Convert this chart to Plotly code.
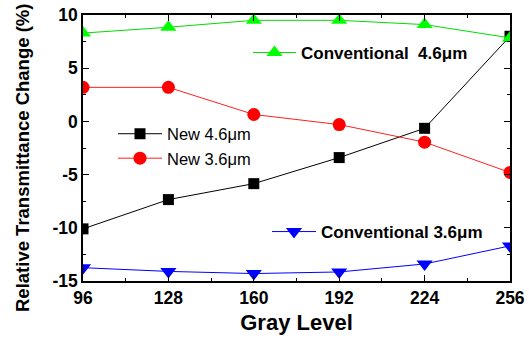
import plotly.graph_objects as go

# Gray levels and relative transmittance change (%) per pixel design
gray_levels = [96, 128, 160, 192, 224, 256]
new_46 = [-10.1, -7.35, -5.85, -3.4, -0.65, 8.0]
new_36 = [3.2, 3.2, 0.65, -0.3, -1.95, -4.8]
conv_46 = [8.3, 8.85, 9.5, 9.5, 9.1, 7.85]
conv_36 = [-13.75, -14.1, -14.3, -14.15, -13.4, -11.7]

x_ticks = [96, 128, 160, 192, 224, 256]
y_ticks = [-15, -10, -5, 0, 5, 10]

FONT = "Arial, Liberation Sans, sans-serif"
W, H = 529, 341
ML, MR, MT, MB = 83, 19, 15, 60
PW, PH = W - ML - MR, H - MT - MB

fig = go.Figure()

fig.add_trace(go.Scatter(
    x=gray_levels, y=new_46, name="New 4.6\u03bcm", legend="legend",
    mode="lines+markers", line=dict(color="black", width=1),
    marker=dict(symbol="square", size=11, color="black")))
fig.add_trace(go.Scatter(
    x=gray_levels, y=new_36, name="New 3.6\u03bcm", legend="legend",
    mode="lines+markers", line=dict(color="#ff2020", width=1),
    marker=dict(symbol="circle", size=13, color="#ff0000")))
fig.add_trace(go.Scatter(
    x=gray_levels, y=conv_36, name="<b>Conventional 3.6\u03bcm</b>", legend="legend3",
    mode="lines+markers", line=dict(color="#0000ff", width=1),
    marker=dict(symbol="triangle-down", size=14, color="#0000ff")))
fig.add_trace(go.Scatter(
    x=gray_levels, y=conv_46, name="<b>Conventional  4.6\u03bcm</b>", legend="legend2",
    mode="lines+markers", line=dict(color="#00dd00", width=1),
    marker=dict(symbol="triangle-up", size=14, color="#00ff00")))


def px_x(px):
    return (px - ML) / PW


def px_y(py):
    return 1 - (py - MT) / PH


def legend_at(px, py, size, width=40):
    # place a legend box by its left edge / vertical centre in pixels
    return dict(
        x=px_x(px), y=px_y(py), xref="paper", yref="paper",
        xanchor="left", yanchor="middle",
        bgcolor="rgba(0,0,0,0)", borderwidth=0,
        itemwidth=width, tracegroupgap=0,
        font=dict(family=FONT, size=size, color="black"),
    )


axis_common = dict(
    showline=True, linecolor="black", linewidth=1.5, mirror="ticks",
    ticks="inside", ticklen=6, tickwidth=1.2, tickcolor="black",
    showgrid=False, zeroline=False,
    tickfont=dict(family=FONT, size=17.5, color="black"),
)
minor_common = dict(ticks="inside", ticklen=3, tickwidth=1, tickcolor="black")

fig.update_layout(
    width=W, height=H,
    margin=dict(l=ML, r=MR, t=MT, b=MB, autoexpand=False),
    paper_bgcolor="white", plot_bgcolor="white",
    font=dict(family=FONT, color="black"),
    showlegend=True,
    legend=legend_at(113, 146, 16.5, 44),
    legend2=legend_at(248, 53, 17, 43),
    legend3=legend_at(267, 232, 17, 44),
    xaxis=dict(
        axis_common, range=[96, 256], tickvals=x_ticks,
        ticktext=[f"<b>{v}</b>" for v in x_ticks],
        minor=dict(minor_common, dtick=16, tick0=96),
        title=dict(text="<b>Gray Level</b>", font=dict(family=FONT, size=22), standoff=8),
    ),
    yaxis=dict(
        axis_common, range=[-15, 10], tickvals=y_ticks,
        ticktext=[f"<b>{v}</b>" for v in y_ticks],
        minor=dict(minor_common, dtick=2.5, tick0=-15),
    ),
    annotations=[dict(
        text="<b>Relative Transmittance Change (%)</b>",
        x=px_x(22), y=px_y(158), xref="paper", yref="paper",
        xanchor="center", yanchor="middle", textangle=-90, showarrow=False,
        font=dict(family=FONT, size=18.5, color="black"),
    )],
)

fig.write_html("out.html")
